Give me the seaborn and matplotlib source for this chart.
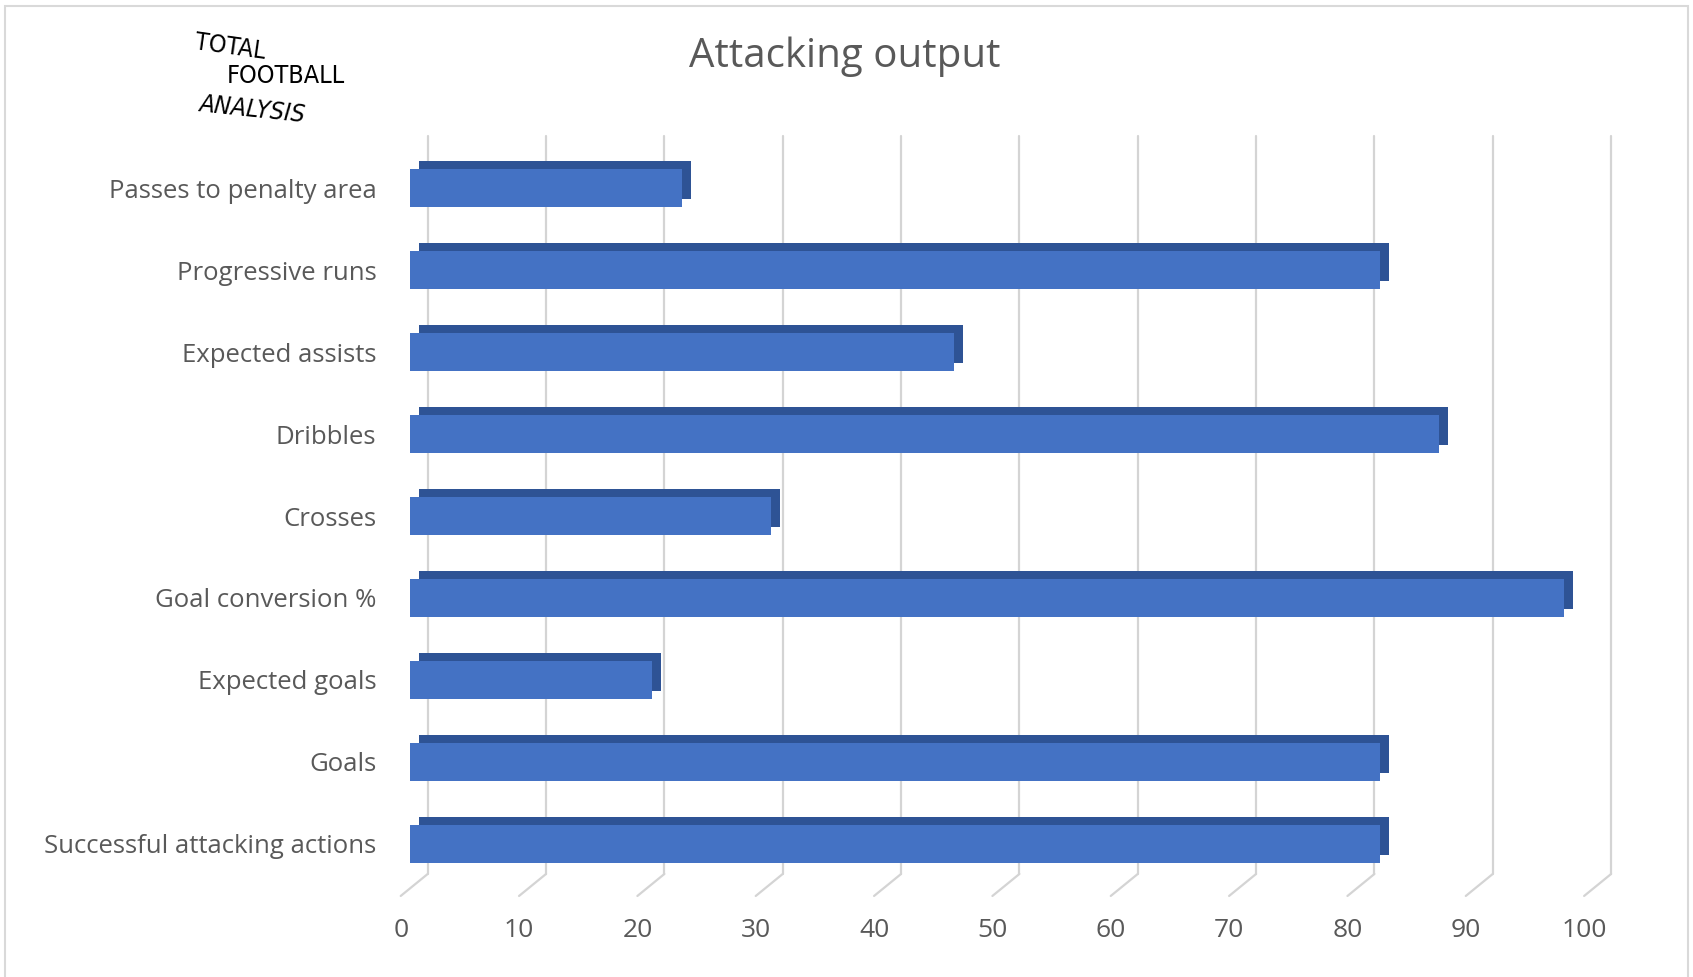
import numpy as np
import pandas as pd
import matplotlib
matplotlib.use("Agg")
import matplotlib.pyplot as plt
import matplotlib.transforms as mtransforms
from matplotlib.patches import Rectangle
import seaborn as sns

# dane
categories = ["Passes to penalty area", "Progressive runs", "Expected assists",
              "Dribbles", "Crosses", "Goal conversion %", "Expected goals",
              "Goals", "Successful attacking actions"]
values = [23, 82, 46, 87, 30.5, 97.5, 20.5, 82, 82]
x_ticks = [0, 10, 20, 30, 40, 50, 60, 70, 80, 90, 100]

df = pd.DataFrame({"metric": categories, "value": values})

sns.set_theme(style="white")
plt.rcParams["font.family"] = ["Open Sans", "DejaVu Sans"]

fig = plt.figure(figsize=(16.93, 9.77), dpi=100)
ax = fig.add_axes([0.242, 0.0942, 0.699, 0.7553])

front = "#4472C4"
side = "#2E5395"
grid_c = "#D4D4D4"
txt_c = "#595959"

# glebokosc 3D (px)
depth = mtransforms.ScaledTranslation(9 / 100, 8 / 100, fig.dpi_scale_trans)
back = mtransforms.ScaledTranslation(18 / 100, 11 / 100, fig.dpi_scale_trans)

# linie siatki na tylnej scianie
for v in x_ticks:
    ax.plot([v, v], [0, 1], color=grid_c, lw=1.6,
            transform=ax.get_xaxis_transform() + back, zorder=0, clip_on=False)
    # skos przy podstawie
    ax.annotate("", xy=(v, 0), xycoords=ax.get_xaxis_transform() + back,
                xytext=(-27, -22), textcoords="offset pixels",
                arrowprops=dict(arrowstyle="-", color=grid_c, lw=1.6,
                                shrinkA=0, shrinkB=0))

# tylna/boczna sciana slupkow
sns.barplot(data=df, x="value", y="metric", orient="h", color=side,
            saturation=1, width=0.46, ax=ax, zorder=2)
for p in ax.patches:
    p.set_transform(ax.transData + depth)
    p.set_edgecolor("none")
n_back = len(ax.patches)

# przednia sciana
sns.barplot(data=df, x="value", y="metric", orient="h", color=front,
            saturation=1, width=0.46, ax=ax, zorder=3)
for p in ax.patches[n_back:]:
    p.set_edgecolor("none")

ax.set_xlim(0, 100)
ax.set_ylim(len(categories) - 0.5, -0.5)
ax.set_xticks(x_ticks)
ax.set_xticklabels([str(t) for t in x_ticks])
ax.set_xlabel("")
ax.set_ylabel("")
for s in ax.spines.values():
    s.set_visible(False)
ax.tick_params(axis="x", length=0, pad=24, labelsize=19, labelcolor=txt_c)
ax.tick_params(axis="y", length=0, pad=24, labelsize=18.5, labelcolor=txt_c)
shift = mtransforms.ScaledTranslation(-9 / 100, 0, fig.dpi_scale_trans)
for lab in ax.get_xticklabels():
    lab.set_transform(lab.get_transform() + shift)

fig.text(0.499, 0.942, "Attacking output", ha="center", va="center",
         fontsize=29, color=txt_c)

# logo
logo_font = ["DejaVu Sans"]
logo_kw = dict(fontsize=18, color="black", family=logo_font,
               stretch="condensed", ha="left", va="center")
fig.text(0.114, 0.952, "TOTAL", rotation=-8, **logo_kw)
fig.text(0.134, 0.922, "FOOTBALL", **logo_kw)
fig.text(0.117, 0.888, "ANALYSIS", style="italic", rotation=-6, **logo_kw)

# ramka wykresu
fig.patches.append(Rectangle((0.003, -0.01), 0.994, 1.004, transform=fig.transFigure,
                             fill=False, edgecolor="#D9D9D9", lw=1.5))

fig.savefig("out.png", dpi=100)
